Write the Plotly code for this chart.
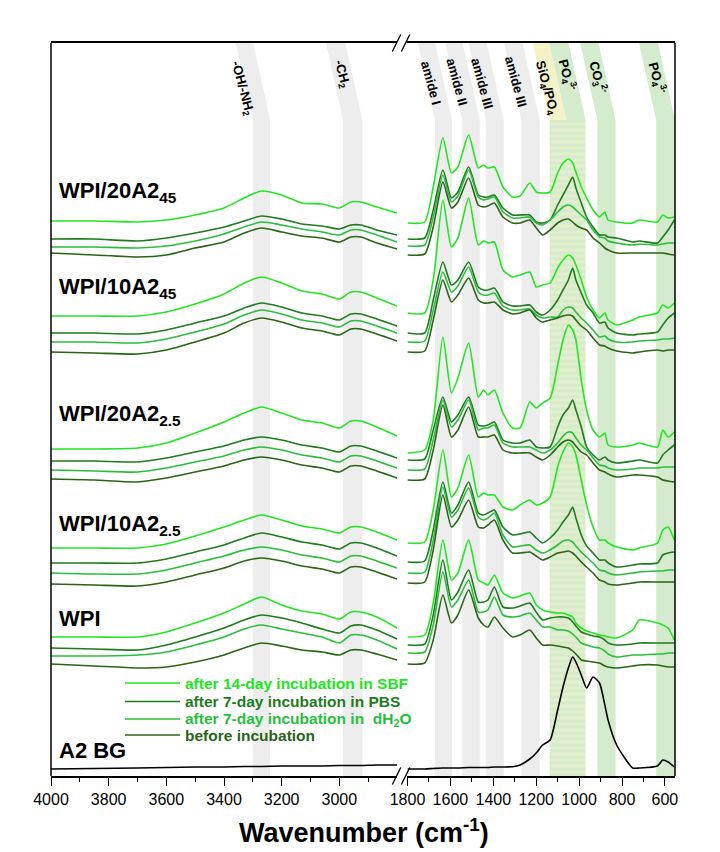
import plotly.graph_objects as go

# Wavenumber grids (cm^-1) for the two axis segments
WN_LEFT = [4000, 3850, 3700, 3600, 3500, 3400, 3330, 3270, 3200, 3130, 3060, 3000, 2960, 2925, 2870, 2800]
WN_RIGHT = [1800, 1720, 1680, 1635, 1595, 1565, 1515, 1470, 1445, 1425, 1395, 1355, 1310, 1275, 1230,
            1200, 1170, 1135, 1100, 1075, 1050, 1030, 1015, 990, 965, 935, 905, 880, 865, 825,
            750, 720, 635, 610, 585, 556]

CONDITIONS = ["SBF", "PBS", "dH2O", "before"]
LEGEND_TEXT = ["after 14-day incubation in SBF",
               "after 7-day incubation in PBS",
               "after 7-day incubation in&nbsp; dH<sub>2</sub>O",
               "before incubation"]
COLORS = {"SBF": "#22e622", "PBS": "#1e7b1e", "dH2O": "#28bf3c", "before": "#2b6417"}

GROUP_LABELS = ["WPI/20A2<sub>45</sub>", "WPI/10A2<sub>45</sub>", "WPI/20A2<sub>2.5</sub>",
                "WPI/10A2<sub>2.5</sub>", "WPI", "A2 BG"]
GROUP_LABEL_Y = [5.84, 4.88, 3.61, 2.51, 1.58, 0.26]

# Stacked absorbance spectra (a.u., vertically offset)
WPI20_45_L = {
    "SBF":    [5.55, 5.55, 5.54, 5.56, 5.61, 5.68, 5.78, 5.85, 5.81, 5.73, 5.72, 5.68, 5.74, 5.74, 5.69, 5.63],
    "PBS":    [5.37, 5.37, 5.35, 5.38, 5.43, 5.49, 5.55, 5.60, 5.57, 5.52, 5.50, 5.47, 5.51, 5.51, 5.46, 5.41],
    "dH2O":   [5.29, 5.29, 5.28, 5.30, 5.35, 5.42, 5.49, 5.54, 5.51, 5.47, 5.44, 5.41, 5.46, 5.46, 5.41, 5.34],
    "before": [5.23, 5.21, 5.19, 5.21, 5.28, 5.34, 5.43, 5.48, 5.44, 5.40, 5.38, 5.34, 5.39, 5.39, 5.33, 5.27],
}
WPI20_45_R = {
    "SBF":    [5.53, 5.54, 5.89, 6.38, 6.03, 6.09, 6.41, 6.08, 6.11, 6.08, 6.09, 5.89, 5.79, 5.80, 5.93, 5.84, 5.83, 5.84,
               6.03, 6.13, 6.17, 6.13, 6.04, 5.89, 5.78, 5.66, 5.59, 5.64, 5.56, 5.54, 5.53, 5.56, 5.54, 5.61, 5.58, 5.59],
    "PBS":    [5.37, 5.38, 5.66, 6.06, 5.78, 5.84, 6.09, 5.81, 5.79, 5.79, 5.81, 5.68, 5.61, 5.61, 5.61, 5.54, 5.53, 5.56,
               5.71, 5.81, 5.91, 5.99, 5.88, 5.73, 5.59, 5.49, 5.41, 5.41, 5.39, 5.38, 5.34, 5.35, 5.33, 5.39, 5.46, 5.56],
    "dH2O":   [5.30, 5.31, 5.59, 6.01, 5.74, 5.80, 6.06, 5.79, 5.76, 5.77, 5.79, 5.64, 5.58, 5.58, 5.59, 5.53, 5.51, 5.56,
               5.64, 5.69, 5.71, 5.69, 5.66, 5.61, 5.56, 5.46, 5.39, 5.38, 5.35, 5.33, 5.31, 5.32, 5.31, 5.32, 5.33, 5.33],
    "before": [5.21, 5.22, 5.49, 5.94, 5.68, 5.74, 5.98, 5.71, 5.69, 5.70, 5.73, 5.59, 5.53, 5.53, 5.56, 5.48, 5.41, 5.46,
               5.53, 5.56, 5.57, 5.54, 5.51, 5.48, 5.46, 5.38, 5.33, 5.28, 5.26, 5.23, 5.23, 5.23, 5.23, 5.23, 5.22, 5.21],
}

WPI10_45_L = {
    "SBF":    [4.60, 4.60, 4.60, 4.64, 4.72, 4.82, 4.93, 4.99, 4.93, 4.85, 4.82, 4.77, 4.84, 4.84, 4.78, 4.70],
    "PBS":    [4.43, 4.43, 4.42, 4.46, 4.53, 4.60, 4.68, 4.73, 4.69, 4.63, 4.60, 4.56, 4.62, 4.62, 4.57, 4.50],
    "dH2O":   [4.34, 4.34, 4.33, 4.37, 4.44, 4.52, 4.61, 4.66, 4.62, 4.56, 4.53, 4.49, 4.55, 4.55, 4.50, 4.43],
    "before": [4.24, 4.23, 4.22, 4.26, 4.34, 4.43, 4.53, 4.58, 4.54, 4.48, 4.45, 4.41, 4.47, 4.47, 4.42, 4.35],
}
WPI10_45_R = {
    "SBF":    [4.63, 4.63, 4.96, 5.76, 5.29, 5.38, 5.78, 5.31, 5.35, 5.33, 5.34, 5.06, 4.99, 5.01, 5.04, 4.89, 4.91, 4.93,
               5.08, 5.16, 5.21, 5.18, 5.11, 4.96, 4.79, 4.66, 4.58, 4.63, 4.56, 4.51, 4.56, 4.59, 4.63, 4.71, 4.68, 4.73],
    "PBS":    [4.43, 4.43, 4.76, 5.14, 4.91, 4.96, 5.14, 4.89, 4.86, 4.86, 4.88, 4.74, 4.70, 4.70, 4.71, 4.64, 4.61, 4.66,
               4.76, 4.86, 4.96, 5.08, 4.96, 4.83, 4.71, 4.63, 4.53, 4.54, 4.48, 4.43, 4.41, 4.42, 4.44, 4.51, 4.58, 4.63],
    "dH2O":   [4.34, 4.35, 4.66, 5.04, 4.84, 4.90, 5.09, 4.84, 4.81, 4.81, 4.83, 4.70, 4.66, 4.66, 4.67, 4.61, 4.58, 4.59,
               4.59, 4.66, 4.69, 4.68, 4.64, 4.58, 4.53, 4.46, 4.39, 4.40, 4.37, 4.34, 4.34, 4.35, 4.36, 4.37, 4.37, 4.38],
    "before": [4.24, 4.25, 4.56, 4.96, 4.74, 4.81, 4.98, 4.76, 4.73, 4.73, 4.74, 4.66, 4.62, 4.63, 4.66, 4.58, 4.54, 4.56,
               4.58, 4.60, 4.61, 4.60, 4.56, 4.50, 4.46, 4.38, 4.31, 4.30, 4.28, 4.25, 4.23, 4.24, 4.26, 4.25, 4.26, 4.26],
}

WPI20_25_L = {
    "SBF":    [3.27, 3.27, 3.28, 3.33, 3.43, 3.54, 3.63, 3.69, 3.63, 3.56, 3.53, 3.48, 3.55, 3.55, 3.49, 3.40],
    "PBS":    [3.15, 3.15, 3.14, 3.18, 3.24, 3.30, 3.36, 3.39, 3.36, 3.31, 3.28, 3.24, 3.30, 3.30, 3.25, 3.18],
    "dH2O":   [3.06, 3.05, 3.04, 3.08, 3.14, 3.20, 3.26, 3.29, 3.26, 3.21, 3.18, 3.14, 3.20, 3.20, 3.15, 3.08],
    "before": [2.97, 2.96, 2.94, 2.98, 3.04, 3.10, 3.16, 3.19, 3.16, 3.11, 3.08, 3.04, 3.10, 3.10, 3.05, 2.98],
}
WPI20_25_R = {
    "SBF":    [3.23, 3.26, 3.56, 4.39, 3.83, 3.98, 4.33, 3.79, 3.86, 3.81, 3.86, 3.63, 3.48, 3.48, 3.74, 3.68, 3.73, 3.78,
               4.11, 4.36, 4.51, 4.46, 4.36, 3.96, 3.66, 3.46, 3.39, 3.43, 3.31, 3.29, 3.31, 3.33, 3.29, 3.46, 3.39, 3.44],
    "PBS":    [3.16, 3.17, 3.46, 3.79, 3.54, 3.61, 3.79, 3.51, 3.50, 3.51, 3.54, 3.36, 3.33, 3.33, 3.36, 3.29, 3.28, 3.29,
               3.49, 3.61, 3.68, 3.76, 3.66, 3.49, 3.29, 3.21, 3.16, 3.19, 3.16, 3.13, 3.15, 3.16, 3.13, 3.21, 3.26, 3.31],
    "dH2O":   [3.06, 3.07, 3.36, 3.76, 3.49, 3.56, 3.76, 3.46, 3.48, 3.48, 3.51, 3.33, 3.29, 3.29, 3.29, 3.26, 3.23, 3.26,
               3.33, 3.40, 3.44, 3.43, 3.38, 3.31, 3.26, 3.18, 3.11, 3.10, 3.08, 3.06, 3.07, 3.08, 3.08, 3.09, 3.09, 3.09],
    "before": [2.96, 2.97, 3.26, 3.71, 3.39, 3.46, 3.69, 3.39, 3.39, 3.39, 3.41, 3.26, 3.23, 3.23, 3.23, 3.19, 3.16, 3.21,
               3.29, 3.34, 3.36, 3.34, 3.30, 3.24, 3.21, 3.13, 3.06, 3.04, 3.02, 2.99, 3.01, 3.01, 2.99, 2.96, 2.95, 2.94],
}

WPI10_25_L = {
    "SBF":    [2.28, 2.28, 2.28, 2.32, 2.40, 2.49, 2.56, 2.61, 2.56, 2.50, 2.47, 2.43, 2.49, 2.49, 2.44, 2.36],
    "PBS":    [2.13, 2.13, 2.13, 2.17, 2.24, 2.31, 2.38, 2.43, 2.39, 2.34, 2.31, 2.27, 2.33, 2.33, 2.28, 2.20],
    "dH2O":   [2.03, 2.02, 2.02, 2.06, 2.13, 2.20, 2.26, 2.29, 2.26, 2.21, 2.18, 2.14, 2.20, 2.20, 2.15, 2.08],
    "before": [1.92, 1.91, 1.90, 1.94, 2.01, 2.08, 2.15, 2.18, 2.15, 2.10, 2.07, 2.03, 2.09, 2.09, 2.04, 1.97],
}
WPI10_25_R = {
    "SBF":    [2.33, 2.34, 2.66, 3.26, 2.79, 2.88, 3.21, 2.79, 2.83, 2.81, 2.81, 2.69, 2.66, 2.71, 2.76, 2.71, 2.73, 2.79,
               3.09, 3.24, 3.33, 3.29, 3.21, 2.96, 2.71, 2.49, 2.36, 2.36, 2.33, 2.29, 2.26, 2.28, 2.33, 2.46, 2.49, 2.36],
    "PBS":    [2.14, 2.15, 2.46, 2.94, 2.63, 2.71, 2.94, 2.63, 2.61, 2.63, 2.66, 2.49, 2.41, 2.42, 2.44, 2.38, 2.33, 2.38,
               2.46, 2.54, 2.61, 2.69, 2.58, 2.41, 2.30, 2.23, 2.16, 2.16, 2.13, 2.09, 2.11, 2.12, 2.13, 2.21, 2.23, 2.24],
    "dH2O":   [2.03, 2.04, 2.36, 2.89, 2.59, 2.66, 2.88, 2.59, 2.56, 2.58, 2.63, 2.41, 2.29, 2.30, 2.31, 2.26, 2.23, 2.26,
               2.31, 2.35, 2.36, 2.34, 2.30, 2.24, 2.19, 2.13, 2.06, 2.05, 2.03, 2.01, 2.03, 2.04, 2.05, 2.05, 2.06, 2.06],
    "before": [1.93, 1.94, 2.26, 2.81, 2.49, 2.56, 2.76, 2.49, 2.48, 2.51, 2.56, 2.36, 2.23, 2.23, 2.24, 2.20, 2.16, 2.19,
               2.23, 2.24, 2.25, 2.23, 2.20, 2.14, 2.09, 2.03, 1.96, 1.94, 1.92, 1.91, 1.93, 1.94, 1.94, 1.94, 1.94, 1.94],
}

WPI_L = {
    "SBF":    [1.39, 1.39, 1.39, 1.44, 1.53, 1.63, 1.72, 1.79, 1.71, 1.65, 1.62, 1.57, 1.64, 1.64, 1.59, 1.48],
    "PBS":    [1.28, 1.27, 1.26, 1.31, 1.39, 1.48, 1.56, 1.61, 1.58, 1.53, 1.47, 1.43, 1.50, 1.51, 1.46, 1.37],
    "dH2O":   [1.20, 1.20, 1.21, 1.24, 1.31, 1.39, 1.47, 1.51, 1.47, 1.43, 1.39, 1.33, 1.41, 1.41, 1.36, 1.27],
    "before": [1.12, 1.10, 1.08, 1.09, 1.14, 1.21, 1.28, 1.33, 1.30, 1.26, 1.24, 1.21, 1.26, 1.26, 1.22, 1.16],
}
WPI_R = {
    "SBF":    [1.39, 1.41, 1.73, 2.36, 1.96, 2.03, 2.36, 1.96, 1.93, 1.91, 2.01, 1.83, 1.78, 1.80, 1.83, 1.71, 1.66, 1.64,
               1.63, 1.63, 1.61, 1.59, 1.53, 1.48, 1.45, 1.43, 1.41, 1.40, 1.39, 1.38, 1.46, 1.56, 1.53, 1.51, 1.48, 1.36],
    "PBS":    [1.31, 1.32, 1.61, 2.16, 1.76, 1.84, 2.06, 1.74, 1.74, 1.76, 1.89, 1.69, 1.68, 1.70, 1.73, 1.64, 1.56, 1.58,
               1.59, 1.59, 1.58, 1.54, 1.50, 1.44, 1.42, 1.40, 1.39, 1.36, 1.33, 1.31, 1.32, 1.33, 1.33, 1.33, 1.33, 1.33],
    "dH2O":   [1.23, 1.24, 1.51, 2.04, 1.69, 1.76, 1.96, 1.64, 1.64, 1.66, 1.79, 1.61, 1.59, 1.60, 1.63, 1.56, 1.49, 1.49,
               1.46, 1.46, 1.45, 1.42, 1.39, 1.33, 1.31, 1.29, 1.28, 1.25, 1.22, 1.19, 1.21, 1.21, 1.22, 1.22, 1.23, 1.23],
    "before": [1.12, 1.13, 1.36, 1.81, 1.53, 1.61, 1.86, 1.58, 1.51, 1.49, 1.59, 1.48, 1.39, 1.41, 1.46, 1.38, 1.31, 1.31,
               1.30, 1.29, 1.28, 1.25, 1.22, 1.16, 1.15, 1.14, 1.13, 1.10, 1.09, 1.08, 1.10, 1.11, 1.11, 1.10, 1.09, 1.09],
}

A2BG_L = [0.07, 0.075, 0.08, 0.085, 0.09, 0.09, 0.095, 0.095, 0.10, 0.10, 0.10, 0.105, 0.105, 0.105, 0.11, 0.11]
A2BG_R = [0.07, 0.07, 0.075, 0.08, 0.08, 0.08, 0.085, 0.085, 0.085, 0.085, 0.09, 0.09, 0.093, 0.11, 0.17, 0.23,
          0.31, 0.36, 0.66, 0.89, 1.08, 1.19, 1.14, 1.01, 0.88, 0.99, 0.93, 0.71, 0.56, 0.31, 0.08, 0.08,
          0.10, 0.16, 0.14, 0.09]

GROUPS = [(WPI20_45_L, WPI20_45_R), (WPI10_45_L, WPI10_45_R), (WPI20_25_L, WPI20_25_R),
          (WPI10_25_L, WPI10_25_R), (WPI_L, WPI_R)]

# Assignment bands: (label, low wn, high wn, label wn, label height)
BANDS_LEFT = [("-OH/-NH<sub>2</sub>", 3240, 3300, 3335, 6.88), ("-CH<sub>2</sub>", 2920, 2987, 2990, 7.02)]
BANDS_RIGHT_GREY = [("amide I", 1592, 1672, 1688, 6.93), ("amide II", 1463, 1545, 1567, 6.94),
                    ("amide III", 1351, 1435, 1450, 6.93), ("amide III", 1184, 1269, 1292, 6.94)]
BANDS_RIGHT_GREEN = [("CO<sub>3</sub><sup>2-</sup>", 830, 915, 912, 6.98),
                     ("PO<sub>4</sub><sup>3-</sup>", 553, 641, 637, 6.98)]
SILICATE_BAND = (970, 1137)
SILICATE_SPLIT = 1060
SILICATE_LABELS = [("SiO<sub>4</sub>/PO<sub>4</sub>", 1150, 6.88), ("PO<sub>4</sub><sup>3-</sup>", 1057, 7.01)]

Y_MAX = 7.33
Y_BEND = 6.56
SHIFT_LEFT = 67
SHIFT_RIGHT = 90

GREY = "#ededed"
GREEN = "#d5ebcd"
YELLOW = "#f5f2c8"
FONT = "Liberation Sans, Arial, sans-serif"
BAND_FONT = dict(family=FONT, size=13, color="black")

fig = go.Figure()


def band_poly(lo, hi, shift):
    xs = [hi, lo, lo, lo + shift, hi + shift, hi, hi]
    ys = [0, 0, Y_BEND, Y_MAX + 0.1, Y_MAX + 0.1, Y_BEND, 0]
    return xs, ys


def add_fill(xs, ys, xaxis, color, pattern=None):
    kw = dict(x=xs, y=ys, xaxis=xaxis, yaxis="y", mode="lines", fill="toself",
              fillcolor=color, line=dict(width=0), hoverinfo="skip", showlegend=False)
    if pattern:
        kw["fillpattern"] = pattern
    fig.add_trace(go.Scatter(**kw))


for _, lo, hi, _, _ in BANDS_LEFT:
    xs, ys = band_poly(lo, hi, SHIFT_LEFT)
    add_fill(xs, ys, "x", GREY)
for _, lo, hi, _, _ in BANDS_RIGHT_GREY:
    xs, ys = band_poly(lo, hi, SHIFT_RIGHT)
    add_fill(xs, ys, "x2", GREY)
for _, lo, hi, _, _ in BANDS_RIGHT_GREEN:
    xs, ys = band_poly(lo, hi, SHIFT_RIGHT)
    add_fill(xs, ys, "x2", GREEN)

lo, hi = SILICATE_BAND
add_fill([hi, lo, lo, hi, hi], [0, 0, Y_BEND, Y_BEND, 0], "x2", GREEN,
         dict(shape="-", fgcolor=YELLOW, bgcolor=GREEN, size=6, solidity=0.5))
add_fill([hi, SILICATE_SPLIT, SILICATE_SPLIT + SHIFT_RIGHT, hi + SHIFT_RIGHT, hi],
         [Y_BEND, Y_BEND, Y_MAX + 0.1, Y_MAX + 0.1, Y_BEND], "x2", YELLOW)
add_fill([SILICATE_SPLIT, lo, lo + SHIFT_RIGHT, SILICATE_SPLIT + SHIFT_RIGHT, SILICATE_SPLIT],
         [Y_BEND, Y_BEND, Y_MAX + 0.1, Y_MAX + 0.1, Y_BEND], "x2", GREEN)

# Spectra
line_kw = dict(shape="spline", smoothing=0.6, width=1.6)
for left, right in GROUPS:
    for cond in CONDITIONS:
        for xs, ys, ax in ((WN_LEFT, left[cond], "x"), (WN_RIGHT, right[cond], "x2")):
            fig.add_trace(go.Scatter(x=xs, y=ys, xaxis=ax, yaxis="y", mode="lines",
                                     line=dict(color=COLORS[cond], **line_kw),
                                     hoverinfo="skip", showlegend=False))
for xs, ys, ax in ((WN_LEFT, A2BG_L, "x"), (WN_RIGHT, A2BG_R, "x2")):
    fig.add_trace(go.Scatter(x=xs, y=ys, xaxis=ax, yaxis="y", mode="lines",
                             line=dict(color="black", **line_kw), hoverinfo="skip", showlegend=False))

annotations = []
# Band labels
for text, _, _, xpos, ypos in BANDS_LEFT:
    annotations.append(dict(x=xpos, y=ypos, xref="x", yref="y", text=f"<b>{text}</b>", textangle=75,
                            showarrow=False, font=BAND_FONT))
for text, _, _, xpos, ypos in BANDS_RIGHT_GREY + BANDS_RIGHT_GREEN:
    annotations.append(dict(x=xpos, y=ypos, xref="x2", yref="y", text=f"<b>{text}</b>", textangle=75,
                            showarrow=False, font=BAND_FONT))
for text, xpos, ypos in SILICATE_LABELS:
    annotations.append(dict(x=xpos, y=ypos, xref="x2", yref="y", text=f"<b>{text}</b>", textangle=75,
                            showarrow=False, font=BAND_FONT))

# Sample labels
for text, ypos in zip(GROUP_LABELS, GROUP_LABEL_Y):
    annotations.append(dict(x=0.0096, y=ypos, xref="paper", yref="y", text=f"<b>{text}</b>",
                            xanchor="left", yanchor="middle", showarrow=False,
                            font=dict(family=FONT, size=22, color="black")))

# Legend
shapes = []
LEGEND_Y = [0.93, 0.745, 0.57, 0.41]
for cond, text, ypos in zip(CONDITIONS, LEGEND_TEXT, LEGEND_Y):
    shapes.append(dict(type="line", xref="paper", yref="y", x0=0.1186, x1=0.2067, y0=ypos, y1=ypos,
                       line=dict(color=COLORS[cond], width=1.6)))
    annotations.append(dict(x=0.2115, y=ypos, xref="paper", yref="y", text=f"<b>{text}</b>",
                            xanchor="left", yanchor="middle", showarrow=False,
                            font=dict(family=FONT, size=15.5, color=COLORS[cond])))

# Axis title
annotations.append(dict(x=0.5016, y=-0.075, xref="paper", yref="paper",
                        text="<b>Wavenumber (cm<sup>-1</sup>)</b>", showarrow=False,
                        xanchor="center", yanchor="middle",
                        font=dict(family=FONT, size=27, color="black")))

# Frame sides and axis-break marks
shapes.append(dict(type="line", xref="paper", yref="paper", x0=0, x1=0, y0=0, y1=1,
                   line=dict(color="black", width=1.5)))
shapes.append(dict(type="line", xref="paper", yref="paper", x0=1, x1=1, y0=0, y1=1,
                   line=dict(color="black", width=1.5)))
for yc in (0.0, 1.0):
    for x0 in (0.547, 0.5615):
        shapes.append(dict(type="line", xref="paper", yref="paper", x0=x0, x1=x0 + 0.0135,
                           y0=yc - 0.0115, y1=yc + 0.0115, line=dict(color="black", width=1.3)))

axis_common = dict(showline=True, linecolor="black", linewidth=1.5, mirror=True, ticks="outside",
                   ticklen=8, tickwidth=1.3, tickcolor="black", showgrid=False, zeroline=False,
                   tickfont=dict(family=FONT, size=16, color="black"))

fig.update_layout(
    width=720, height=852,
    margin=dict(l=51, r=45, t=43, b=76),
    paper_bgcolor="white", plot_bgcolor="white",
    showlegend=False,
    xaxis=dict(domain=[0, 0.5545], range=[4000, 2800], anchor="y",
               tickvals=[4000, 3800, 3600, 3400, 3200, 3000],
               minor=dict(tickvals=[3900, 3700, 3500, 3300, 3100, 2900], ticklen=4,
                          tickwidth=1.2, tickcolor="black", ticks="outside"),
               **axis_common),
    xaxis2=dict(domain=[0.5713, 1], range=[1800, 553], anchor="y",
                tickvals=[1800, 1600, 1400, 1200, 1000, 800, 600],
                minor=dict(tickvals=[1700, 1500, 1300, 1100, 900, 700], ticklen=4,
                           tickwidth=1.2, tickcolor="black", ticks="outside"),
                **axis_common),
    yaxis=dict(range=[0, Y_MAX], visible=False, domain=[0, 1]),
    shapes=shapes,
    annotations=annotations,
)

fig.write_html("out.html")
